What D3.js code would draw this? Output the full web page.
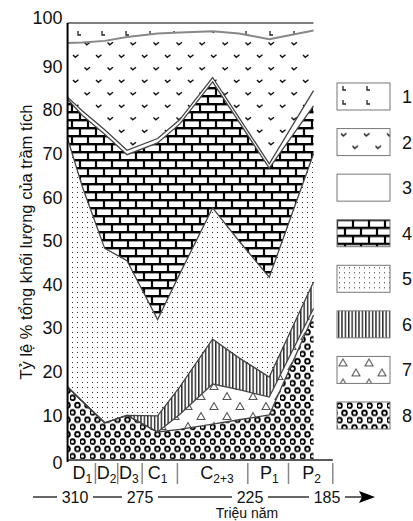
<!DOCTYPE html>
<html>
<head>
<meta charset="utf-8">
<script src="https://cdn.jsdelivr.net/npm/d3@7"></script>
<style>
  body { margin: 0; background: #fff; }
  svg { display: block; font-family: "Liberation Sans", Arial, sans-serif; }
</style>
</head>
<body>
<div id="chart"></div>
<script>
// Ages (million years) where the layer boundaries bend
var ages = [314, 306, 294, 282, 267, 257, 242, 230, 215, 192];

// Share of each sediment type (%) at those ages, legend numbers 1..8
var layer1 = [4.6, 4.5, 4.1, 3.2, 2.4, 2.2, 1.9, 2.4, 3.7, 1.7];
var layer2 = [12.4, 15.7, 20.4, 26.0, 24.1, 20.0, 10.6, 19.3, 28.6, 13.8];
var layer3 = [0.5, 1.0, 1.0, 1.0, 1.0, 1.0, 1.0, 1.0, 1.0, 3.5];
var layer4 = [9.0, 16.4, 26.2, 24.3, 40.5, 34.4, 28.9, 27.3, 25.0, 11.0];
var layer5 = [57.0, 49.2, 40.0, 35.5, 22.1, 25.9, 30.1, 26.8, 22.9, 29.4];
var layer6 = [0, 0, 0, 0, 3.7, 6.3, 10.3, 7.3, 4.6, 6.1];
var layer7 = [0, 0, 0, 0, 0, 3.4, 9.2, 6.9, 4.1, 1.5];
var layer8 = [16.5, 13.2, 8.3, 10.0, 6.2, 6.8, 8.0, 9.0, 10.1, 33.0];

var legendLabels = ["1", "2", "3", "4", "5", "6", "7", "8"];

// Periods under the axis: name, subscript, edges (age) and where the label sits
var periodBase = ["D", "D", "D", "C", "C", "P", "P"];
var periodSub = ["1", "2", "3", "1", "2+3", "1", "2"];
var periodEdges = [314, 299, 287, 274, 258, 226, 205, 182];
var periodLabelAt = [306, 293, 281, 267, 240, 215, 193];

var yTicks = [0, 10, 20, 30, 40, 50, 60, 70, 80, 90, 100];
var timeTicks = [310, 275, 225, 185];

var width = 413, height = 521;

var svg = d3.select("#chart").append("svg")
    .attr("width", width)
    .attr("height", height);

// time axis of the book figure is not evenly spaced, so use a piecewise scale
var x = d3.scaleLinear().domain([310, 275, 225, 185]).range([75, 140, 250, 327]);
var y = d3.scaleLinear().domain([0, 100]).range([459, 23]);

// PATTERNS
var defs = svg.append("defs");
function pattern(id, w, h) {
  var p = defs.append("pattern")
      .attr("id", id)
      .attr("patternUnits", "userSpaceOnUse")
      .attr("width", w)
      .attr("height", h);
  p.append("rect").attr("width", w).attr("height", h).attr("fill", "#fff");
  return p;
}

var p1 = pattern("p1", 24, 14);
p1.append("path").attr("d", "M6,3V7H9").attr("fill", "none").attr("stroke", "#222").attr("stroke-width", 1.3);

var p2 = pattern("p2", 23, 25);
p2.append("path").attr("d", "M4,5l2.3,2.3l3.2,-2.6M15.5,17.5l2.3,2.3l3.2,-2.6")
    .attr("fill", "none").attr("stroke", "#111").attr("stroke-width", 1.4);

pattern("p3", 10, 10);

var p4 = pattern("p4", 16, 16);
p4.append("path").attr("d", "M1,1.5h14M9,9.5h14M-7,9.5h14")
    .attr("stroke", "#999").attr("stroke-width", 1);
p4.append("path").attr("d", "M0,0H16M0,8H16M0,16H16M0,0V8M16,0V8M8,8V16")
    .attr("stroke", "#000").attr("stroke-width", 2.2);

var p5 = pattern("p5", 5, 5);
p5.append("rect").attr("x", 2).attr("y", 2).attr("width", 1).attr("height", 1).attr("fill", "#333");

var p6 = pattern("p6", 3.4, 10);
p6.append("rect").attr("x", 1).attr("y", 0).attr("width", 1.2).attr("height", 10).attr("fill", "#000");

var p7 = pattern("p7", 26, 20);
p7.append("path").attr("d", "M2,9.5l4,-7l4,7zM15,19.5l4,-7l4,7z")
    .attr("fill", "none").attr("stroke", "#555").attr("stroke-width", 1.1);

var p8 = pattern("p8", 10, 14.6);
p8.selectAll("circle").data([[2.5, 3.6], [7.5, 10.9], [-2.5, 10.9], [12.5, 10.9]]).enter()
  .append("circle")
    .attr("cx", d => d[0]).attr("cy", d => d[1]).attr("r", 2.4)
    .attr("fill", "none").attr("stroke", "#000").attr("stroke-width", 1.8);

// STACKED LAYERS
var layers = [layer1, layer2, layer3, layer4, layer5, layer6, layer7, layer8];
var keys = ["l8", "l7", "l6", "l5", "l4", "l3", "l2", "l1"];
var table = ages.map(function(a, i) {
  var row = { age: a };
  layers.forEach(function(l, k) { row["l" + (k + 1)] = l[i]; });
  return row;
});
var series = d3.stack().keys(keys)(table);

var area = d3.area()
    .x(d => x(d.data.age))
    .y0(d => y(d[0]))
    .y1(d => y(d[1]));

var topLine = d3.line()
    .x(d => x(d.data.age))
    .y(d => y(d[1]));

svg.append("g").selectAll("path")
    .data(series)
    .enter().append("path")
    .attr("d", area)
    .attr("fill", d => "url(#p" + d.key.slice(1) + ")");

svg.append("g").selectAll("path")
    .data(series.filter(s => s.key !== "l1"))
    .enter().append("path")
    .attr("d", topLine)
    .attr("fill", "none")
    .attr("stroke", d => d.key === "l2" ? "#888" : "#444")
    .attr("stroke-width", d => d.key === "l2" ? 2 : 1.3);

// FRAME
svg.append("line")
    .attr("x1", x(ages[0])).attr("x2", x(ages[ages.length - 1]))
    .attr("y1", y(100)).attr("y2", y(100))
    .attr("stroke", "#555").attr("stroke-width", 1.5);
svg.append("line")
    .attr("x1", x(ages[0])).attr("x2", x(182))
    .attr("y1", y(0) + 1).attr("y2", y(0) + 1)
    .attr("stroke", "#222").attr("stroke-width", 1.5);
svg.append("line")
    .attr("x1", x(ages[0])).attr("x2", x(ages[0]))
    .attr("y1", y(100)).attr("y2", y(0) + 3)
    .attr("stroke", "#000").attr("stroke-width", 2);

// Y AXIS
var yAxis = svg.append("g")
    .attr("transform", "translate(" + (x(ages[0]) - 1) + ",0)")
    .call(d3.axisLeft(y).tickValues(yTicks).tickSize(0).tickPadding(4));
yAxis.select(".domain").remove();
yAxis.selectAll("text")
    .attr("font-size", 18)
    .attr("font-family", "Liberation Sans, Arial, sans-serif")
    .attr("fill", "#111")
    .attr("dy", d => d === 100 ? "-0.0em" : d === 0 ? "0.55em" : "0.32em");

svg.append("text")
    .attr("transform", "translate(32,242) rotate(-90)")
    .attr("text-anchor", "middle")
    .attr("font-size", 16.5)
    .attr("fill", "#111")
    .text("Tỷ lệ % tổng khối lượng của trầm tích");

// PERIODS
var per = svg.append("g");
per.selectAll("line")
    .data(periodEdges.slice(1))
    .enter().append("line")
    .attr("x1", d => x(d)).attr("x2", d => x(d))
    .attr("y1", y(0) + 4).attr("y2", y(0) + 25)
    .attr("stroke", "#888").attr("stroke-width", 1.5);
var pt = per.selectAll("text")
    .data(periodBase)
    .enter().append("text")
    .attr("x", (d, i) => x(periodLabelAt[i]))
    .attr("y", 479)
    .attr("text-anchor", "middle")
    .attr("font-size", 18)
    .attr("fill", "#111");
pt.append("tspan").text(d => d);
pt.append("tspan").attr("font-size", 12).attr("dy", 4).text((d, i) => periodSub[i]);

// TIME LINE
var ty = 497;
svg.append("line")
    .attr("x1", 33).attr("x2", 362).attr("y1", ty).attr("y2", ty)
    .attr("stroke", "#666").attr("stroke-width", 2);
svg.selectAll(".tt")
    .data(timeTicks)
    .enter().append("rect")
    .attr("x", d => x(d) - 18).attr("y", ty - 8).attr("width", 36).attr("height", 16)
    .attr("fill", "#fff");
svg.selectAll(".tl")
    .data(timeTicks)
    .enter().append("text")
    .attr("x", d => x(d)).attr("y", ty + 5.5)
    .attr("text-anchor", "middle")
    .attr("font-size", 16)
    .attr("fill", "#111")
    .text(d => d);
svg.append("path")
    .attr("d", "M359," + (ty - 6) + "L375," + ty + "L359," + (ty + 6) + "L362," + ty + "Z")
    .attr("fill", "#000");
svg.append("text")
    .attr("x", 247).attr("y", 518)
    .attr("text-anchor", "middle")
    .attr("font-size", 14)
    .attr("fill", "#111")
    .text("Triệu năm");

// LEGEND
var ly = d3.scaleLinear().domain([0, 7]).range([83, 402]);
var leg = svg.append("g").selectAll("g")
    .data(legendLabels)
    .enter().append("g")
    .attr("transform", (d, i) => "translate(337," + ly(i) + ")");
leg.append("rect")
    .attr("width", 53).attr("height", 27)
    .attr("fill", d => "url(#p" + d + ")")
    .attr("stroke", "#777").attr("stroke-width", 1);
leg.append("text")
    .attr("x", 65).attr("y", 20)
    .attr("font-size", 18)
    .attr("fill", "#111")
    .text(d => d);
</script>
</body>
</html>
